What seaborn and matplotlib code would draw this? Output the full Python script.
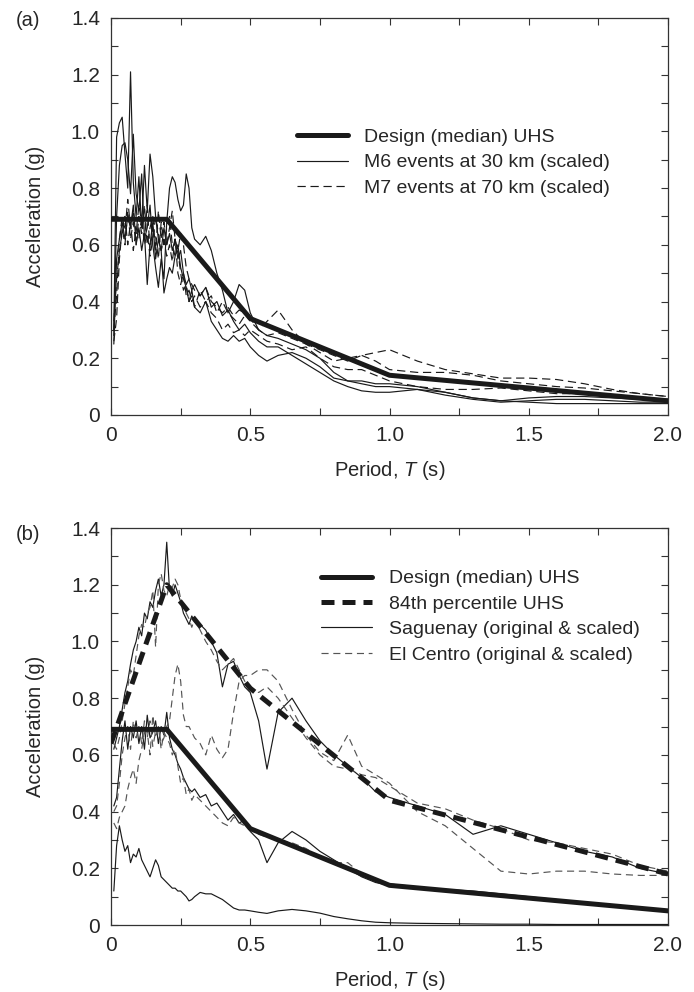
import numpy as np
import pandas as pd
import matplotlib
matplotlib.use('Agg')
import matplotlib.pyplot as plt
import seaborn as sns
from matplotlib import font_manager
from matplotlib.ticker import MultipleLocator

sns.set_style('ticks')

# pick a narrow sans if we have one
installed = {f.name for f in font_manager.fontManager.ttflist}
fam = 'Liberation Sans Narrow' if 'Liberation Sans Narrow' in installed else 'Liberation Sans'
plt.rcParams['font.family'] = [fam, 'DejaVu Sans']
plt.rcParams['mathtext.fontset'] = 'custom'
plt.rcParams['mathtext.it'] = fam + ':italic'
plt.rcParams['mathtext.rm'] = fam

# periods (s) shared by all spectra
periods = [0.01, 0.02, 0.03, 0.04, 0.05, 0.06, 0.07, 0.08, 0.09, 0.10,
           0.11, 0.12, 0.13, 0.14, 0.15, 0.16, 0.17, 0.18, 0.19, 0.20,
           0.21, 0.22, 0.23, 0.24, 0.25, 0.26, 0.27, 0.28, 0.29, 0.30,
           0.32, 0.34, 0.36, 0.38, 0.40, 0.42, 0.44, 0.46, 0.48, 0.50,
           0.53, 0.56, 0.60, 0.65, 0.70, 0.75, 0.80, 0.85, 0.90, 0.95, 1.00,
           1.10, 1.20, 1.30, 1.40, 1.50, 1.60, 1.70, 1.80, 1.90, 2.00]

# design spectra
uhs_T = [0.0, 0.2, 0.5, 1.0, 2.0]
uhs_median = [0.69, 0.69, 0.34, 0.14, 0.05]
uhs_84th = [0.64, 1.20, 0.835, 0.44, 0.18]

# (a) M6 events at 30 km, scaled
m6_a = [0.30, 0.98, 1.03, 1.05, 0.92, 0.80, 1.21, 0.82, 0.70, 0.84,
        0.66, 0.88, 0.72, 0.92, 0.84, 0.70, 0.62, 0.58, 0.66, 0.60,
        0.64, 0.58, 0.62, 0.55, 0.58, 0.50, 0.46, 0.48, 0.44, 0.46,
        0.42, 0.45, 0.38, 0.40, 0.35, 0.37, 0.33, 0.30, 0.32, 0.29,
        0.26, 0.24, 0.24, 0.21, 0.18, 0.15, 0.12, 0.10, 0.085, 0.08, 0.08,
        0.09, 0.07, 0.055, 0.045, 0.05, 0.055, 0.055, 0.05, 0.045, 0.045]
m6_b = [0.28, 0.70, 0.88, 0.95, 0.96, 0.90, 0.78, 0.99, 0.78, 0.72,
        0.85, 0.62, 0.66, 0.74, 0.60, 0.52, 0.45, 0.55, 0.48, 0.68,
        0.80, 0.84, 0.82, 0.76, 0.72, 0.74, 0.85, 0.80, 0.66, 0.62,
        0.60, 0.63, 0.58, 0.50, 0.44, 0.36, 0.40, 0.46, 0.44, 0.36,
        0.30, 0.28, 0.27, 0.25, 0.23, 0.20, 0.15, 0.12, 0.11, 0.10, 0.10,
        0.09, 0.08, 0.06, 0.05, 0.045, 0.04, 0.04, 0.04, 0.04, 0.04]
m6_c = [0.25, 0.55, 0.62, 0.68, 0.62, 0.70, 0.66, 0.74, 0.60, 0.66,
        0.58, 0.64, 0.46, 0.60, 0.68, 0.55, 0.62, 0.58, 0.43, 0.48,
        0.52, 0.50, 0.56, 0.60, 0.52, 0.48, 0.45, 0.40, 0.44, 0.38,
        0.36, 0.40, 0.33, 0.30, 0.27, 0.26, 0.28, 0.26, 0.27, 0.24,
        0.21, 0.19, 0.21, 0.22, 0.20, 0.17, 0.13, 0.12, 0.12, 0.11, 0.11,
        0.10, 0.08, 0.06, 0.05, 0.06, 0.065, 0.065, 0.06, 0.055, 0.05]

# (a) M7 events at 70 km, scaled
m7_a = [0.26, 0.34, 0.55, 0.66, 0.60, 0.72, 0.62, 0.68, 0.60, 0.70,
        0.64, 0.74, 0.60, 0.66, 0.70, 0.58, 0.72, 0.62, 0.68, 0.60,
        0.66, 0.72, 0.62, 0.58, 0.64, 0.60, 0.52, 0.48, 0.46, 0.44,
        0.42, 0.45, 0.40, 0.38, 0.36, 0.38, 0.35, 0.37, 0.36, 0.33,
        0.30, 0.33, 0.37, 0.30, 0.25, 0.23, 0.21, 0.19, 0.21, 0.22, 0.23,
        0.19, 0.16, 0.145, 0.13, 0.13, 0.125, 0.11, 0.09, 0.075, 0.065]
m7_b = [0.30, 0.42, 0.62, 0.70, 0.65, 0.76, 0.66, 0.72, 0.64, 0.74,
        0.68, 0.62, 0.74, 0.58, 0.66, 0.63, 0.55, 0.68, 0.60, 0.66,
        0.70, 0.60, 0.56, 0.58, 0.50, 0.44, 0.46, 0.40, 0.42, 0.38,
        0.44, 0.40, 0.42, 0.36, 0.40, 0.36, 0.34, 0.32, 0.35, 0.34,
        0.30, 0.28, 0.29, 0.27, 0.25, 0.22, 0.19, 0.20, 0.21, 0.19, 0.16,
        0.15, 0.15, 0.14, 0.12, 0.11, 0.10, 0.095, 0.085, 0.075, 0.065]
m7_c = [0.33, 0.48, 0.58, 0.64, 0.70, 0.60, 0.68, 0.58, 0.66, 0.62,
        0.70, 0.60, 0.64, 0.56, 0.62, 0.70, 0.64, 0.58, 0.62, 0.56,
        0.60, 0.54, 0.62, 0.50, 0.46, 0.50, 0.42, 0.44, 0.40, 0.42,
        0.38, 0.40, 0.36, 0.34, 0.30, 0.32, 0.29, 0.30, 0.28, 0.30,
        0.28, 0.26, 0.25, 0.23, 0.24, 0.20, 0.17, 0.16, 0.16, 0.14, 0.12,
        0.10, 0.09, 0.09, 0.095, 0.085, 0.075, 0.075, 0.07, 0.06, 0.055]

# (b) Saguenay: original, scaled to median, scaled to 84th
sag_orig = [0.12, 0.28, 0.35, 0.30, 0.26, 0.28, 0.22, 0.25, 0.24, 0.27,
            0.23, 0.21, 0.19, 0.17, 0.20, 0.23, 0.21, 0.17, 0.16, 0.15,
            0.14, 0.13, 0.13, 0.12, 0.12, 0.11, 0.10, 0.085, 0.09, 0.10,
            0.115, 0.11, 0.11, 0.10, 0.09, 0.075, 0.06, 0.053, 0.053, 0.05,
            0.045, 0.041, 0.05, 0.055, 0.05, 0.042, 0.03, 0.022, 0.015, 0.01, 0.008,
            0.006, 0.005, 0.004, 0.003, 0.003, 0.002, 0.002, 0.002, 0.002, 0.002]
sag_med = [0.42, 0.45, 0.55, 0.65, 0.72, 0.62, 0.70, 0.66, 0.72, 0.64,
           0.70, 0.62, 0.74, 0.66, 0.68, 0.72, 0.64, 0.70, 0.67, 0.75,
           0.66, 0.62, 0.60, 0.57, 0.55, 0.52, 0.50, 0.48, 0.47, 0.48,
           0.45, 0.46, 0.42, 0.43, 0.40, 0.37, 0.39, 0.36, 0.37, 0.33,
           0.30, 0.22, 0.29, 0.33, 0.30, 0.26, 0.23, 0.20, 0.17, 0.15, 0.14,
           0.13, 0.125, 0.12, 0.11, 0.10, 0.09, 0.08, 0.07, 0.06, 0.05]
sag_84 = [0.62, 0.66, 0.70, 0.76, 0.82, 0.86, 0.92, 0.97, 1.00, 1.05,
          1.02, 1.10, 1.08, 1.14, 1.12, 1.18, 1.22, 1.16, 1.20, 1.35,
          1.18, 1.16, 1.20, 1.17, 1.14, 1.10, 1.08, 1.06, 1.09, 1.07,
          1.06, 1.04, 1.00, 0.96, 0.84, 0.92, 0.93, 0.88, 0.84, 0.82,
          0.72, 0.55, 0.75, 0.80, 0.72, 0.65, 0.60, 0.56, 0.52, 0.47, 0.45,
          0.42, 0.39, 0.32, 0.35, 0.32, 0.29, 0.26, 0.24, 0.20, 0.18]

# (b) El Centro: original, scaled to median, scaled to 84th
elc_orig = [0.36, 0.34, 0.38, 0.40, 0.42, 0.48, 0.52, 0.55, 0.50, 0.58,
            0.62, 0.68, 0.66, 0.72, 0.63, 0.68, 0.70, 0.64, 0.66, 0.70,
            0.72, 0.80, 0.88, 0.92, 0.86, 0.74, 0.70, 0.70, 0.68, 0.66,
            0.64, 0.60, 0.67, 0.62, 0.59, 0.62, 0.75, 0.86, 0.88, 0.88,
            0.90, 0.90, 0.86, 0.76, 0.67, 0.61, 0.58, 0.67, 0.56, 0.53, 0.50,
            0.40, 0.35, 0.27, 0.19, 0.18, 0.19, 0.19, 0.18, 0.175, 0.175]
elc_med = [0.40, 0.42, 0.50, 0.60, 0.66, 0.70, 0.62, 0.72, 0.66, 0.70,
           0.64, 0.72, 0.68, 0.60, 0.74, 0.66, 0.70, 0.62, 0.68, 0.66,
           0.64, 0.60, 0.62, 0.56, 0.50, 0.52, 0.46, 0.48, 0.44, 0.46,
           0.44, 0.42, 0.40, 0.38, 0.36, 0.35, 0.38, 0.36, 0.35, 0.34,
           0.32, 0.31, 0.30, 0.29, 0.27, 0.24, 0.22, 0.22, 0.18, 0.16, 0.145,
           0.135, 0.125, 0.115, 0.105, 0.095, 0.085, 0.075, 0.07, 0.06, 0.05]
elc_84 = [0.64, 0.62, 0.66, 0.72, 0.78, 0.84, 0.90, 0.88, 0.95, 1.02,
          1.06, 1.05, 1.10, 1.12, 1.18, 0.98, 1.20, 1.24, 1.18, 1.16,
          1.20, 1.19, 1.22, 1.20, 1.15, 1.12, 1.10, 1.08, 1.05, 1.08,
          1.04, 1.00, 0.97, 0.93, 0.90, 0.92, 0.94, 0.90, 0.86, 0.84,
          0.82, 0.84, 0.80, 0.73, 0.66, 0.60, 0.56, 0.55, 0.53, 0.52, 0.49,
          0.43, 0.41, 0.37, 0.34, 0.30, 0.29, 0.27, 0.25, 0.21, 0.19]

ink = '#1a1a1a'
thin = 0.85
fs_tick = 15
fs_text = 14.5
fs_leg = 14


def draw(ax, x, y, **kw):
    sns.lineplot(x=x, y=y, ax=ax, estimator=None, sort=False, legend=False, **kw)


def style_axes(ax):
    ax.set_xlim(0, 2.0)
    ax.set_ylim(0, 1.4)
    ax.xaxis.set_major_locator(MultipleLocator(0.5))
    ax.xaxis.set_minor_locator(MultipleLocator(0.25))
    ax.yaxis.set_major_locator(MultipleLocator(0.2))
    ax.yaxis.set_minor_locator(MultipleLocator(0.1))
    ax.set_xticks([0, 0.5, 1.0, 1.5, 2.0])
    ax.set_xticklabels(['0', '0.5', '1.0', '1.5', '2.0'])
    ax.set_yticks([0, 0.2, 0.4, 0.6, 0.8, 1.0, 1.2, 1.4])
    ax.set_yticklabels(['0', '0.2', '0.4', '0.6', '0.8', '1.0', '1.2', '1.4'])
    ax.tick_params(which='both', direction='in', top=True, right=True,
                   length=5, width=0.8, color='#333333')
    ax.tick_params(which='major', labelsize=fs_tick, pad=8)
    for sp in ax.spines.values():
        sp.set_visible(True)
        sp.set_linewidth(0.9)
        sp.set_color('#333333')
    ax.set_xlabel('Period, $\\mathit{T}$ (s)', fontsize=fs_text, labelpad=10)
    ax.set_ylabel('Acceleration (g)', fontsize=fs_text)
    ax.yaxis.set_label_coords(-0.118, 0.5)


fig = plt.figure(figsize=(6.94, 9.92), dpi=100)
ax1 = fig.add_axes([0.160, 0.5817, 0.8025, 0.4002])
ax2 = fig.add_axes([0.160, 0.0675, 0.8025, 0.4002])

# ---- panel (a)
draw(ax1, uhs_T, uhs_median, color=ink, lw=3.6, zorder=5,
     label='Design (median) UHS')
for i, y in enumerate([m6_a, m6_b, m6_c]):
    draw(ax1, periods, y, color=ink, lw=thin, zorder=3,
         label='M6 events at 30 km (scaled)' if i == 0 else '_nolegend_')
for i, y in enumerate([m7_a, m7_b, m7_c]):
    draw(ax1, periods, y, color=ink, lw=thin, linestyle=(0, (7, 4)), zorder=3,
         label='M7 events at 70 km (scaled)' if i == 0 else '_nolegend_')
style_axes(ax1)
h, l = ax1.get_legend_handles_labels()
ax1.legend(h, l, loc='upper left', bbox_to_anchor=(0.334, 0.722), frameon=False,
           fontsize=fs_leg, handlelength=2.6, handletextpad=0.85,
           labelspacing=0.4, borderpad=0, borderaxespad=0)

# ---- panel (b)
draw(ax2, uhs_T, uhs_median, color=ink, lw=3.6, zorder=5,
     label='Design (median) UHS')
draw(ax2, uhs_T, uhs_84th, color=ink, lw=3.6, linestyle=(0, (2.6, 1.6)), zorder=5,
     label='84th percentile UHS')
for i, y in enumerate([sag_orig, sag_med, sag_84]):
    draw(ax2, periods, y, color=ink, lw=thin, zorder=3,
         label='Saguenay (original & scaled)' if i == 0 else '_nolegend_')
for i, y in enumerate([elc_orig, elc_med, elc_84]):
    draw(ax2, periods, y, color='#555555', lw=thin, linestyle=(0, (6, 4)), zorder=3,
         label='El Centro (original & scaled)' if i == 0 else '_nolegend_')
style_axes(ax2)
h, l = ax2.get_legend_handles_labels()
ax2.legend(h, l, loc='upper left', bbox_to_anchor=(0.377, 0.895), frameon=False,
           fontsize=fs_leg, handlelength=2.6, handletextpad=0.9,
           labelspacing=0.4, borderpad=0, borderaxespad=0)

fig.text(0.040, 0.979, '(a)', fontsize=fs_text, ha='center', va='center')
fig.text(0.040, 0.461, '(b)', fontsize=fs_text, ha='center', va='center')

fig.savefig('out.png', dpi=100)
